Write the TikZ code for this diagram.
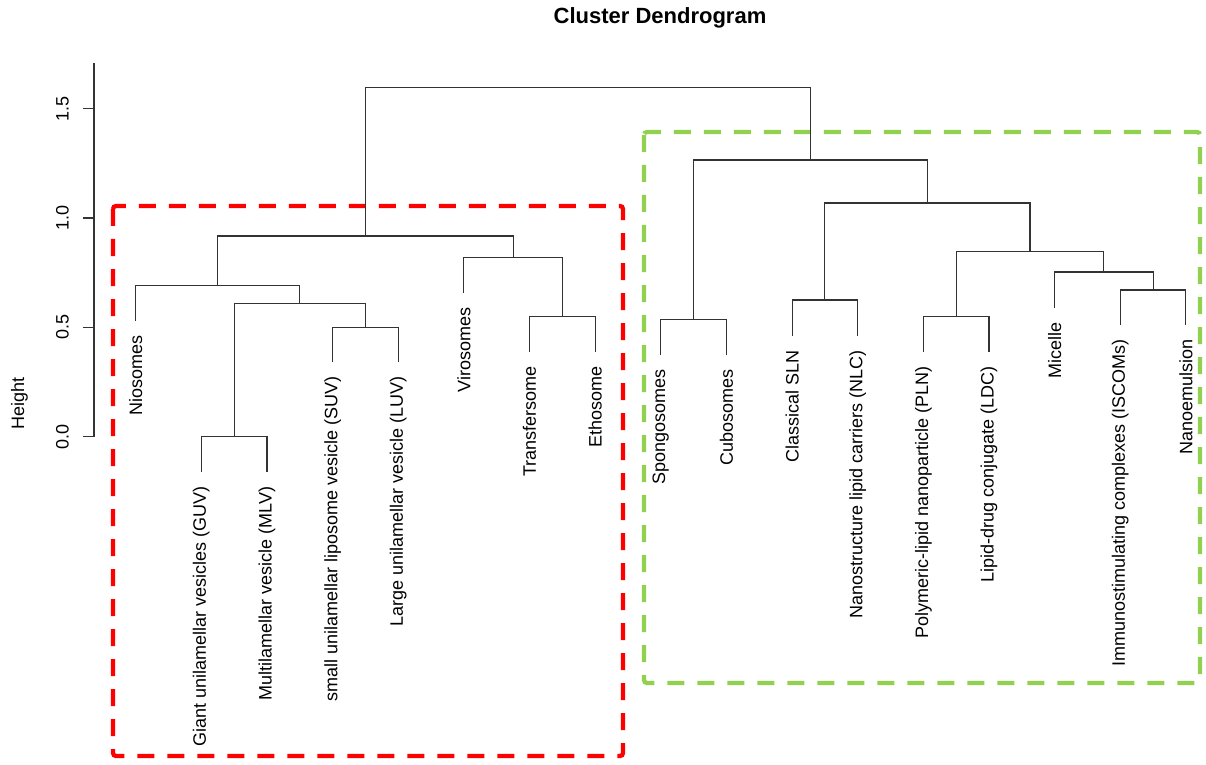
\documentclass[tikz,border=0pt]{standalone}
\usepackage{fontspec}
\setmainfont{Liberation Sans}
\usepackage{xcolor}
\usepackage{tikz}
\usetikzlibrary{positioning}

\definecolor{boxred}{RGB}{255,0,0}
\definecolor{boxgreen}{RGB}{146,208,80}

\tikzset{
  branch/.style={draw=black!80, line width=0.55pt},
  leaflab/.style={rotate=90, anchor=east, inner sep=0pt, font=\fontsize{9}{10}\selectfont},
  ticklab/.style={rotate=90, inner sep=0pt, font=\fontsize{9}{10}\selectfont},
  clusterbox/.style={line width=2.15pt, dash pattern=on 8.5pt off 6.5pt, rounded corners=1.5pt},
}

\begin{document}
\begin{tikzpicture}[x=0.5pt, y=-0.5pt]
    \useasboundingbox (0,0) rectangle (1206,765);

    % Cluster boxes
    \draw[clusterbox, boxred] (113,206) rectangle (623,756);
    \draw[clusterbox, boxgreen] (644,132) rectangle (1200,683);

    % Title and height axis
    \node[font=\bfseries\fontsize{11}{13}\selectfont] (title) at (660,18) {Cluster Dendrogram};
    \coordinate (ybot) at (94,436.7);
    \coordinate (ytop) at (94,63);
    \draw[branch] (ybot) -- (ytop);
    \foreach \h/\lab [count=\i] in {0/0.0, 0.5/0.5, 1/1.0, 1.5/1.5} {
        \coordinate (tick\i) at (94,{436.7-218.7*\h});
        \draw[branch] (tick\i) -- ++(-11,0);
        \node[ticklab] (ticklab\i) at (62.5,{436.7-218.7*\h}) {\lab};
    }
    \node[ticklab] (ylab) at (19.5,403) {Height};

    % Leaves (stub ends) and their labels
    \foreach \name/\x/\y/\txt in {
        nio/135.7/320.7/Niosomes,
        guv/201.3/471.7/Giant unilamellar vesicles (GUV),
        mlv/267.0/471.7/Multilamellar vesicle (MLV),
        suv/332.6/361.7/small unilamellar liposome vesicle (SUV),
        luv/398.3/361.7/Large unilamellar vesicle (LUV),
        viro/463.9/292.7/Virosomes,
        trans/529.5/351.7/Transfersome,
        etho/595.2/351.7/Ethosome,
        spong/660.8/355.0/Spongosomes,
        cubo/726.5/355.0/Cubosomes,
        sln/792.1/335.7/Classical SLN,
        nlc/857.7/335.7/Nanostructure lipid carriers (NLC),
        pln/923.4/351.7/Polymeric-lipid nanoparticle (PLN),
        ldc/989.0/351.7/Lipid-drug conjugate (LDC),
        mic/1054.7/307.7/Micelle,
        isc/1120.3/325.0/Immunostimulating complexes (ISCOMs),
        nano/1185.9/325.0/Nanoemulsion} {
        \coordinate (\name) at (\x,\y);
        \path (\name) ++(0,14.5) node[leaflab] (\name-lab) {\txt};
    }

    % Merge points
    \coordinate (guvmlv) at (234.1,436.7);
    \coordinate (suvluv) at (365.5,327.3);
    \coordinate (vesic) at (299.8,303.3);
    \coordinate (niovesic) at (217.8,285.7);
    \coordinate (transetho) at (562.4,316.3);
    \coordinate (virogrp) at (513.2,257.3);
    \coordinate (leftgrp) at (365.5,236.0);
    \coordinate (spongcubo) at (693.7,319.7);
    \coordinate (slnnlc) at (824.9,300.0);
    \coordinate (plnldc) at (956.2,316.3);
    \coordinate (iscnano) at (1153.1,290.0);
    \coordinate (micgrp) at (1103.9,272.0);
    \coordinate (pmgrp) at (1030.0,251.7);
    \coordinate (snpm) at (927.5,203.0);
    \coordinate (rightgrp) at (810.6,160.0);
    \coordinate (root) at (588.0,87.7);

    % Branches
    \draw[branch] (guv) |- (guvmlv) -| (mlv);
    \draw[branch] (suv) |- (suvluv) -| (luv);
    \draw[branch] (guvmlv) |- (vesic) -| (suvluv);
    \draw[branch] (nio) |- (niovesic) -| (vesic);
    \draw[branch] (trans) |- (transetho) -| (etho);
    \draw[branch] (viro) |- (virogrp) -| (transetho);
    \draw[branch] (niovesic) |- (leftgrp) -| (virogrp);
    \draw[branch] (spong) |- (spongcubo) -| (cubo);
    \draw[branch] (sln) |- (slnnlc) -| (nlc);
    \draw[branch] (pln) |- (plnldc) -| (ldc);
    \draw[branch] (isc) |- (iscnano) -| (nano);
    \draw[branch] (mic) |- (micgrp) -| (iscnano);
    \draw[branch] (plnldc) |- (pmgrp) -| (micgrp);
    \draw[branch] (slnnlc) |- (snpm) -| (pmgrp);
    \draw[branch] (spongcubo) |- (rightgrp) -| (snpm);
    \draw[branch] (leftgrp) |- (root) -| (rightgrp);
\end{tikzpicture}
\end{document}
